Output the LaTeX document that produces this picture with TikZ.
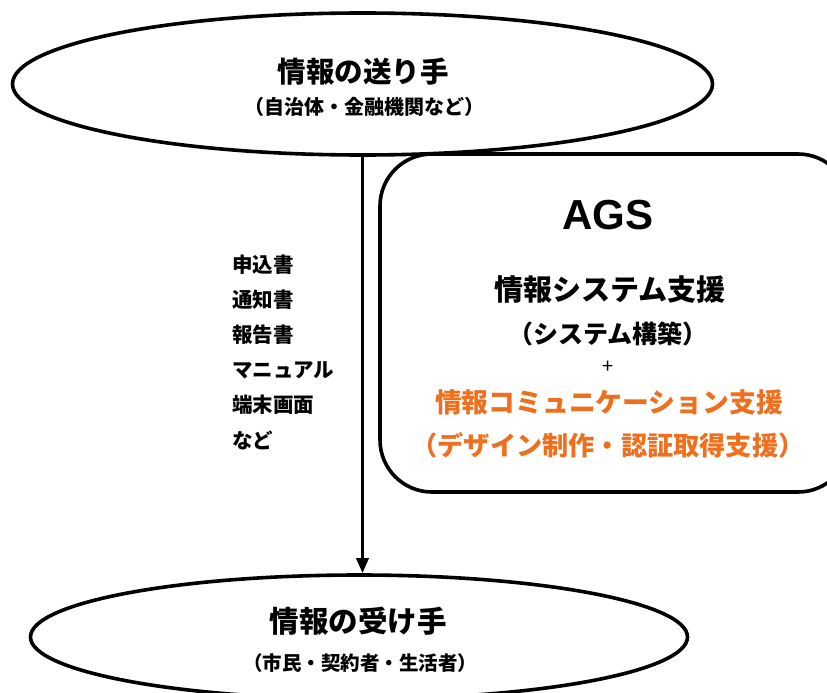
\documentclass[tikz,border=0pt]{standalone}
\usepackage{fontspec}
\setmainfont{Liberation Sans}
\newfontfamily\jp{Noto Sans CJK JP}
\usetikzlibrary{shapes.geometric,arrows.meta}
\definecolor{agsorange}{RGB}{238,112,30}
\tikzset{
  outline/.style={draw=black,line width=3.6pt},
  party/.style={outline,ellipse,fill=white,inner sep=0pt},
  txt/.style={inner sep=0pt,font=\jp\bfseries},
  doc/.style={txt,anchor=west,font=\jp\bfseries\fontsize{20.5}{24}\selectfont},
}
\begin{document}
\begin{tikzpicture}[x=1pt,y=-1pt]
\useasboundingbox (0,0) rectangle (827,693);
\clip (0,0) rectangle (827,693);
% AGS box
\draw[outline,rounded corners=52pt,fill=white] (380,154) rectangle (850,492);
% parties
\node[party,minimum width=700pt,minimum height=142pt] (send) at (362.5,84) {};
\node[party,minimum width=657pt,minimum height=124pt] (recv) at (359,637) {};
% arrow
\draw[line width=3.4pt,-{Triangle[length=15pt,width=12pt]}] (send.south) -- (send.south |- recv.north);
% texts in sender
\node[txt,font=\jp\bfseries\fontsize{28.5}{32}\selectfont] (s1) at (363,72) {情報の送り手};
\node[txt,font=\jp\bfseries\fontsize{20}{24}\selectfont] (s2) at (364,107) {（自治体・金融機関など）};
% texts in receiver
\node[txt,font=\jp\bfseries\fontsize{29.5}{32}\selectfont] (r1) at (358,621) {情報の受け手};
\node[txt,font=\jp\bfseries\fontsize{19.5}{24}\selectfont] (r2) at (360,663) {（市民・契約者・生活者）};
% documents list
\node[doc] (d1) at (232,265) {申込書};
\node[doc] (d2) at (232,300) {通知書};
\node[doc] (d3) at (232,335) {報告書};
\node[doc] (d4) at (232,370) {マニュアル};
\node[doc] (d5) at (232,405) {端末画面};
\node[doc] (d6) at (232,440) {など};
% AGS texts
\node[inner sep=0pt,font=\bfseries\fontsize{42}{44}\selectfont] (ags) at (608,215) {AGS};
\node[txt,font=\jp\bfseries\fontsize{29}{32}\selectfont] (a1) at (610,290) {情報システム支援};
\node[txt,font=\jp\bfseries\fontsize{25}{28}\selectfont] (a2) at (608,334) {（システム構築）};
\node[txt,font=\jp\fontsize{20}{22}\selectfont] (plus) at (608,367) {+};
\node[txt,text=agsorange,font=\jp\bfseries\fontsize{26.8}{30}\selectfont] (o1) at (609,402) {情報コミュニケーション支援};
\node[txt,text=agsorange,font=\jp\bfseries\fontsize{26.2}{30}\selectfont] (o2) at (608,445) {（デザイン制作・認証取得支援）};
\end{tikzpicture}
\end{document}
